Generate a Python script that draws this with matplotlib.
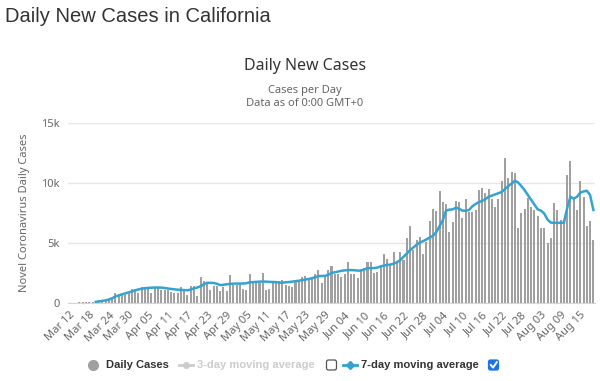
import matplotlib
matplotlib.use("Agg")
import matplotlib.pyplot as plt
import numpy as np
import pandas as pd
from matplotlib.patches import FancyBboxPatch

# daily new cases in California, Mar 12 .. Aug 19
start_date = "2020-03-12"
daily_cases = [
    20, 30, 40, 60, 70, 80, 90, 100, 130, 160,
    200, 240, 280, 330, 850, 640, 650, 680, 920, 1140,
    1200, 860, 1300, 1320, 1200, 860, 1250, 1260, 1100, 1100,
    1080, 910, 860, 860, 1300, 1080, 690, 1410, 1410, 580,
    2140, 1860, 1690, 1080, 1410, 1410, 1020, 1300, 970, 2300,
    1530, 1480, 1650, 1130, 1070, 2400, 1700, 1690, 1700, 2460,
    1070, 1150, 1740, 1820, 1820, 1890, 1500, 1400, 1340, 1950,
    1900, 2180, 2290, 1900, 2180, 2400, 2730, 1680, 2180, 2790,
    3060, 2455, 2400, 2180, 2400, 3455, 2455, 2400, 2120, 2850,
    2900, 3455, 3455, 2510, 2570, 3120, 4067, 3680, 3290, 4230,
    3400, 4240, 3600, 5400, 6400, 4400, 5290, 5510, 4120, 5100,
    6850, 7820, 7650, 9320, 8400, 8240, 5900, 6740, 8520, 8450,
    7100, 8650, 7570, 7570, 7740, 9400, 9550, 9160, 9460, 8630,
    7990, 8680, 10180, 12050, 10380, 10900, 10850, 6290, 7460, 7850,
    8790, 8010, 7740, 7240, 6240, 6240, 5010, 5400, 8350, 7740,
    6900, 6800, 10650, 11850, 8630, 7740, 10200, 8800, 6450, 6820,
    5260,
]

# 7-day moving average as drawn, starting on the 9th day (Mar 20)
avg_start = 8
avg7 = [
    100, 140, 180, 220, 290, 400, 540, 640, 720, 800,
    880, 960, 1050, 1130, 1190, 1230, 1260, 1275, 1290, 1290,
    1280, 1250, 1210, 1170, 1140, 1110, 1090, 1075, 1065, 1120,
    1220, 1290, 1400, 1560, 1680, 1680, 1670, 1600, 1490, 1520,
    1560, 1590, 1610, 1620, 1620, 1620, 1650, 1720, 1740, 1760,
    1780, 1790, 1780, 1760, 1750, 1740, 1700, 1700, 1720, 1745,
    1780, 1820, 1855, 1900, 1950, 2000, 2060, 2150, 2240, 2250,
    2260, 2350, 2500, 2560, 2620, 2680, 2720, 2740, 2745, 2730,
    2700, 2700, 2800, 2900, 2910, 2910, 2950, 3050, 3120, 3170,
    3200, 3280, 3400, 3570, 3850, 4130, 4400, 4630, 4850, 5050,
    5150, 5300, 5450, 5600, 5900, 6400, 6900, 7700, 7780, 7800,
    7950, 7850, 7700, 7690, 7750, 8050, 8250, 8400, 8500, 8650,
    8850, 8950, 9050, 9150, 9250, 9500, 9740, 9950, 10180, 10050,
    9740, 9400, 9000, 8600, 8200, 7800, 7700, 7450, 6950, 6700,
    6680, 6680, 6680, 6700, 7900, 8850, 8700, 8850, 9200, 9300,
    9350, 9000, 7750,
]

y_ticks = [0, 5000, 10000, 15000]
y_tick_labels = ["0", "5k", "10k", "15k"]
label_every = 6

dates = pd.date_range(start_date, periods=len(daily_cases))
date_labels = [d.strftime("%b %d") for d in dates]
x = np.arange(len(daily_cases))
x_avg = np.arange(avg_start, avg_start + len(avg7))

plt.rcParams["font.family"] = ["Noto Sans", "DejaVu Sans"]

fig = plt.figure(figsize=(6, 3.81), dpi=100)
W, H = 600, 381
ax = fig.add_axes([68 / W, 1 - 303 / H, 527 / W, 180 / H])

ax.bar(x, daily_cases, width=0.62, color="#a0a0a0", zorder=2)
ax.plot(x_avg, avg7, color="#33a3d2", lw=1.8, zorder=3)

ax.set_xlim(-0.5, len(daily_cases) - 0.5)
ax.set_ylim(0, 15000)
ax.set_yticks(y_ticks)
ax.set_yticklabels(y_tick_labels, color="#666666", fontsize=8)
ax.yaxis.grid(True, color="#e6e6e6", lw=1, zorder=0)
ax.tick_params(axis="y", length=0, pad=6)
ax.set_ylabel("Novel Coronavirus Daily Cases", color="#666666", fontsize=8, labelpad=8)

ax.set_xticks(x[::label_every])
ax.set_xticklabels(date_labels[::label_every], rotation=45, ha="right", va="top",
                   rotation_mode="anchor", color="#666666", fontsize=8)
ax.tick_params(axis="x", length=0, pad=5)

for side in ["top", "right", "left"]:
    ax.spines[side].set_visible(False)
ax.spines["bottom"].set_color("#ccd6eb")

# titles
fig.text(5 / W, 1 - 16 / H, "Daily New Cases in California", fontsize=14.5,
         color="#333333", family="Liberation Sans", va="center", ha="left")
fig.text(305 / W, 1 - 66 / H, "Daily New Cases", fontsize=11.5, color="#333333",
         va="center", ha="center")
fig.text(305 / W, 1 - 91 / H, "Cases per Day", fontsize=8, color="#666666",
         va="center", ha="center")
fig.text(305 / W, 1 - 103 / H, "Data as of 0:00 GMT+0", fontsize=8, color="#666666",
         va="center", ha="center")

# legend row drawn in pixel space
ov = fig.add_axes([0, 0, 1, 1])
ov.set_xlim(0, W)
ov.set_ylim(H, 0)
ov.axis("off")
ly = 365
leg_font = dict(fontsize=8, weight="bold", family="Liberation Sans", va="center")
ov.plot([93], [ly], "o", color="#a0a0a0", ms=7)
ov.text(106, ly, "Daily Cases", color="#333333", **leg_font)
ov.plot([179, 193], [ly, ly], color="#cccccc", lw=2)
ov.plot([186], [ly], "o", color="#cccccc", ms=4)
ov.text(197, ly, "3-day moving average", color="#cccccc", **leg_font)
ov.add_patch(FancyBboxPatch((326.5, ly - 5), 10, 10, boxstyle="round,pad=0,rounding_size=2",
                            fc="white", ec="#555555", lw=0.9))
ov.plot([343, 357], [ly, ly], color="#33a3d2", lw=2)
ov.plot([350], [ly], "D", color="#33a3d2", ms=4)
ov.text(361, ly, "7-day moving average", color="#333333", **leg_font)
ov.add_patch(FancyBboxPatch((488.5, ly - 5), 10, 10, boxstyle="round,pad=0,rounding_size=2",
                            fc="#1a73e8", ec="#1a73e8", lw=0.9))
ov.plot([490.8, 493, 496.8], [ly, ly + 2.6, ly - 2.8], color="white", lw=1.4)

fig.savefig("out.png", dpi=100, facecolor="white")
